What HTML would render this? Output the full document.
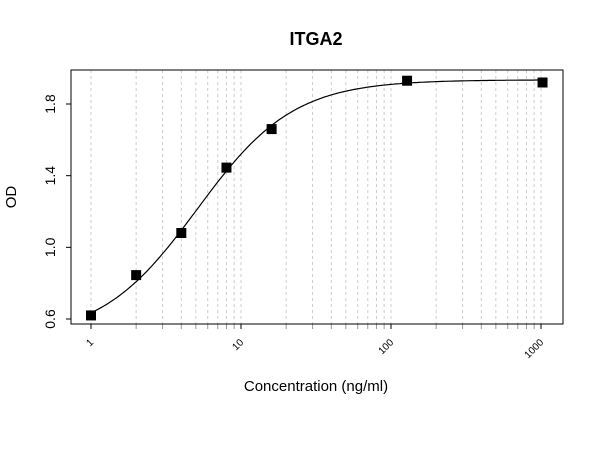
<!DOCTYPE html>
<html><head><meta charset="utf-8"><style>body{margin:0;background:#fff}svg{display:block;font-family:"Liberation Sans",sans-serif}</style></head>
<body>
<svg id="c" width="600" height="450">
<text x="316" y="45" text-anchor="middle" font-size="18" font-weight="bold">ITGA2</text>
<text x="316" y="391" text-anchor="middle" font-size="15">Concentration (ng/ml)</text>
<text transform="translate(16,197) rotate(-90)" text-anchor="middle" font-size="15">OD</text>
<g id="grid"></g><g id="axes"></g><g id="marks"></g>
<rect x="71" y="70" width="492" height="254" fill="none" stroke="#000"/>
</svg>
<script>
const concentrations=[1,2,4,8,16,128,1024];
const odValues=[0.62,0.845,1.08,1.445,1.66,1.93,1.92];
const xTicks=[1,10,100,1000];
const yTicks=[0.6,1.0,1.4,1.8];
const fitBottom=0.49, fitTop=1.935, fitEC50=5.1, fitHill=1.35;
const NS="http://www.w3.org/2000/svg";
const X=v=>91+150*Math.log10(v);
const Y=v=>319-(v-0.6)*(215/1.2);
function mk(t,a,p){const e=document.createElementNS(NS,t);for(const k in a)e.setAttribute(k,a[k]);p.appendChild(e);return e;}
const grid=document.getElementById('grid'),axes=document.getElementById('axes'),marks=document.getElementById('marks');
for(let d=1;d<=1000;d*=10){for(let m=1;m<=9;m++){const v=d*m;if(v>1000)break;const x=X(v);
const g=mk('line',{x1:x,x2:x,y1:70,y2:324,stroke:'#ccc','stroke-dasharray':'3,3'},grid);

const t=mk('line',{x1:x,x2:x,y1:324,y2:329,stroke:m==1?'#000':'#999'},axes);
}}
xTicks.forEach(v=>{const x=X(v);const t=mk('text',{transform:`translate(${x+3},${343}) rotate(-45)`,'text-anchor':'end','font-size':10},axes);t.textContent=v;
});
yTicks.forEach(v=>{const y=Y(v);const l=mk('line',{x1:66,x2:71,y1:y,y2:y,stroke:'#000'},axes);

const t=mk('text',{transform:`translate(55,${y}) rotate(-90)`,'text-anchor':'middle','font-size':14},axes);t.textContent=v.toFixed(1);
});
let d='';for(let i=0;i<=300;i++){const lv=Math.log10(1)+i/300*Math.log10(1024);const c=Math.pow(10,lv);
const od=fitBottom+(fitTop-fitBottom)/(1+Math.pow(fitEC50/c,fitHill));d+=(i?'L':'M')+X(c).toFixed(1)+','+Y(od).toFixed(1);}
const p=mk('path',{d:d,fill:'none',stroke:'#000','stroke-width':1.2},marks);

concentrations.forEach((c,i)=>{const r=mk('rect',{x:X(c)-5,y:Y(odValues[i])-5,width:10,height:10,fill:'#000'},marks);
});
</script>
</body></html>
